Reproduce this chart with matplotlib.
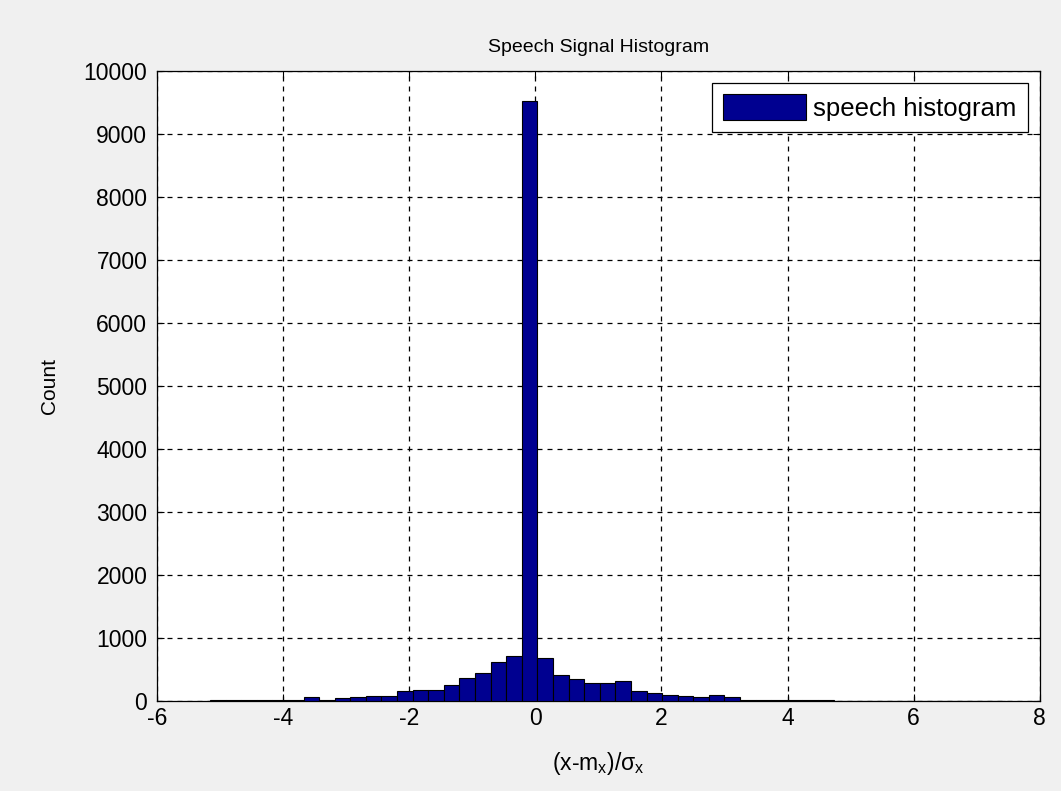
import numpy as np
import matplotlib
matplotlib.use('Agg')
import matplotlib.pyplot as plt

# histogram of normalised speech samples, 51 bins between x_min and x_max
x_min = -5.16
x_max = 7.45
counts = [8, 10, 12, 12, 15, 18,
          60, 20, 55, 65, 80, 80, 155, 180, 180, 250, 370, 440, 625, 715,
          9530,
          690, 405, 345, 278, 278, 315, 165, 122, 90, 85, 65, 100, 65,
          20, 15, 12, 10, 8, 8, 6, 6, 5, 5, 4, 4, 3,
          0,
          3, 3, 2]
x_ticks = [-6, -4, -2, 0, 2, 4, 6, 8]
y_ticks = [0, 1000, 2000, 3000, 4000, 5000, 6000, 7000, 8000, 9000, 10000]

plt.rcParams['font.family'] = ['Liberation Sans', 'DejaVu Sans']
plt.rcParams['mathtext.fontset'] = 'custom'
plt.rcParams['mathtext.rm'] = 'Liberation Sans'
plt.rcParams['mathtext.it'] = 'Liberation Sans'
plt.rcParams['axes.unicode_minus'] = False

edges = np.linspace(x_min, x_max, len(counts) + 1)
centers = (edges[:-1] + edges[1:]) / 2
width = edges[1] - edges[0]

fig = plt.figure(figsize=(10.61, 7.91), dpi=100, facecolor='#f0f0f0')
ax = fig.add_axes([0.148, 0.1138, 0.832, 0.7964])

ax.bar(centers, counts, width=width, color='#000090', edgecolor='black',
       linewidth=0.8, label='speech histogram', zorder=3)

ax.set_xlim(-6, 8)
ax.set_ylim(0, 10000)
ax.set_xticks(x_ticks)
ax.set_yticks(y_ticks)
ax.grid(True, color='black', linestyle=(0, (4, 4)), linewidth=0.9, zorder=1)
ax.tick_params(direction='in', length=5, top=True, right=True, labelsize=16.5, width=0.8)
ax.tick_params(axis='y', pad=7)
ax.tick_params(axis='x', pad=4)
for s in ax.spines.values():
    s.set_linewidth(0.9)

ax.set_title('Speech Signal Histogram', fontsize=14, pad=14)
ax.set_ylabel('Count', fontsize=15, labelpad=18)
ax.set_xlabel(r'(x-m$_{\rm x}$)/$\sigma_{\rm x}$', fontsize=16.5, labelpad=15)

leg = ax.legend(loc='upper right', fontsize=18.5, fancybox=False, framealpha=1,
                edgecolor='black', handlelength=3.2, handleheight=1.15,
                handletextpad=0.3, borderaxespad=0.45, borderpad=0.45)
leg.get_frame().set_linewidth(0.9)

fig.savefig('out.png', dpi=100, facecolor=fig.get_facecolor())
